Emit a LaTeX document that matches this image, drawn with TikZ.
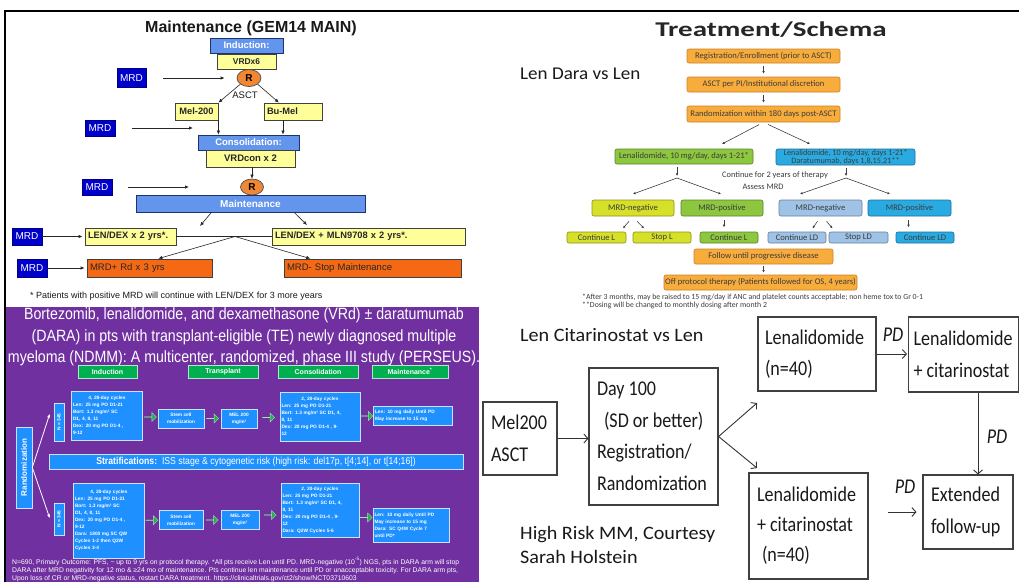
\documentclass[tikz,border=0pt]{standalone}
\usepackage{fontspec}
\setmainfont{Liberation Sans}
\newfontfamily\arialf{Liberation Sans}
\newfontfamily\arialn[FakeStretch=0.87]{Liberation Sans}
\newfontfamily\carl{Carlito}
\newfontfamily\carln[FakeStretch=0.86]{Carlito}
\newfontfamily\carlw[FakeStretch=1.06]{Carlito}
\newfontfamily\carlt[FakeStretch=1.38]{Carlito}
\usetikzlibrary{shapes.geometric,shapes.arrows,arrows.meta,calc}
\newcommand\fsz[2]{\fontsize{#1}{#2}\selectfont}

\definecolor{indblue}{RGB}{100,149,237}
\definecolor{navyb}{RGB}{30,50,110}
\definecolor{yel}{RGB}{255,255,153}
\definecolor{mrdblue}{RGB}{0,0,204}
\definecolor{rorg}{RGB}{240,135,50}
\definecolor{org}{RGB}{245,105,20}
\definecolor{purp}{RGB}{112,48,160}
\definecolor{pblue}{RGB}{30,144,255}
\definecolor{pgreen}{RGB}{0,176,80}
\definecolor{garrow}{RGB}{34,177,76}
\definecolor{sorange}{RGB}{248,172,60}
\definecolor{sorangeb}{RGB}{200,130,40}
\definecolor{sgreen}{RGB}{141,198,63}
\definecolor{slime}{RGB}{214,224,40}
\definecolor{slblue}{RGB}{158,195,230}
\definecolor{sblue}{RGB}{41,171,226}
\definecolor{stext}{RGB}{60,60,60}

\begin{document}
\begin{tikzpicture}[x=1pt,y=-1pt,
  % GEM14 schema
  bluebox/.style={draw=navyb, line width=0.8pt, fill=indblue, text=white, inner sep=0pt, font=\arialf\bfseries\fsz{9.5}{11}},
  ybox/.style={draw=black!75, line width=0.8pt, fill=yel, text=black!85, inner sep=0pt, font=\arialf\bfseries\fsz{9.3}{11}},
  obox/.style={draw=black!75, line width=0.8pt, fill=org, text=black!85, inner sep=0pt, font=\arialf\fsz{9.5}{11}},
  mrdbox/.style={draw=blue!50!black, line width=0.6pt, fill=mrdblue, text=white, inner sep=0pt, font=\arialf\fsz{10}{11}},
  rnode/.style={ellipse, draw=black!70, line width=0.7pt, fill=rorg, inner sep=0pt, font=\arialf\bfseries\fsz{10}{11}},
  arr/.style={-{Latex[length=4pt,width=3.5pt]}, line width=0.9pt, black!85},
  % PERSEUS schema
  pbox/.style={draw=white!75!pblue, line width=0.6pt, fill=pblue, text=white, inner sep=1.5pt, font=\arialf\bfseries\fsz{4.8}{7}},
  ghdr/.style={draw=white!70!pgreen, line width=0.5pt, fill=pgreen, text=white, inner sep=0pt, minimum height=13pt, font=\arialf\bfseries\fsz{7}{8}},
  garr/.style={single arrow, fill=garrow, draw=white!60!garrow, line width=0.4pt, minimum height=12pt, minimum width=9pt, single arrow head extend=3pt, inner sep=0pt},
  warr/.style={-{Stealth[length=4pt,width=3pt]}, line width=0.8pt, white},
  % Len/Dara schema
  sbox/.style={rounded corners=2pt, line width=0.6pt, text=stext, inner sep=0pt, font=\carl\fsz{8.6}{9}},
  sor/.style={sbox, fill=sorange, draw=sorangeb},
  sgr/.style={sbox, fill=sgreen, draw=sgreen!65!black},
  slm/.style={sbox, fill=slime, draw=slime!65!black},
  slb/.style={sbox, fill=slblue, draw=slblue!65!black},
  sbl/.style={sbox, fill=sblue, draw=sblue!65!black},
  stxt/.style={text=stext, font=\carl\fsz{8.4}{9}, inner sep=0pt},
  sarr/.style={-{Latex[length=2.6pt,width=2.6pt]}, line width=0.6pt, black!75},
  % citarinostat schema
  brbox/.style={draw=black!75, line width=1.1pt, text=black!90, inner sep=0pt, align=flush left, font=\carln\fsz{21}{31.5}},
  pdl/.style={font=\carln\itshape\fsz{21}{22}, text=black!90, inner sep=0pt},
  brarr/.style={-{Straight Barb[length=4pt,width=9pt]}, line width=0.9pt, black!80},
  label/.style={inner sep=0pt, text=black!90}
]
\useasboundingbox (0,0) rectangle (1019,582);
\fill[white] (0,0) rectangle (1019,582);

% ---------------- GEM14 MAIN ----------------
\node[label, font=\arialf\bfseries\fsz{16}{18}] (t1) at (251,28) {Maintenance (GEM14 MAIN)};
\node[bluebox, minimum width=73pt, minimum height=15pt] (ind) at (246.5,45.5) {Induction:};
\node[ybox, minimum width=59pt, minimum height=15pt, font=\arialf\bfseries\fsz{8.4}{10}] (vrd6) at (246.5,61.5) {VRDx6};
\node[rnode, minimum width=24pt, minimum height=17pt] (r1) at (249,78) {R};
\node[mrdbox, minimum width=29pt, minimum height=19pt] (m1) at (131.5,78) {MRD};
\draw[arr, shorten <=17pt, shorten >=12pt] (m1) -- (r1);
\node[label, font=\arialf\fsz{9.5}{11}] (asct1) at (245,95) {ASCT};
\node[ybox, minimum width=43pt, minimum height=17pt] (mel) at (196.5,111.5) {Mel-200};
\node[ybox, minimum width=58pt, minimum height=17pt, text width=52pt, inner xsep=3pt, align=left] (bu) at (293,111.5) {Bu-Mel};
\draw[arr, line width=0.6pt] (r1.south west) -- (mel.north east);
\draw[arr, line width=0.6pt] (r1.south east) -- ($(bu.north west)!0.26!(bu.north east)$);
\node[mrdbox, minimum width=30pt, minimum height=16pt] (m2) at (100,128) {MRD};
\coordinate (m2e) at (193,128);
\draw[arr, shorten <=17pt] (m2) -- (m2e);
\node[bluebox, minimum width=101pt, minimum height=15pt] (cons) at (248.5,142.5) {Consolidation:};
\draw[arr, line width=0.6pt] (mel.south east) -- (mel.south east |- cons.north);
\coordinate (bux) at ($(bu.south west)!0.33!(bu.south east)$);
\draw[arr, line width=0.6pt] (bux) -- (bux |- cons.north);
\node[ybox, minimum width=89pt, minimum height=17pt, font=\arialf\bfseries\fsz{9.5}{11}] (vrdc) at (250.5,158.5) {VRDcon x 2};
\node[rnode, minimum width=23pt, minimum height=16pt] (r2) at (252,187) {R};
\draw[arr, line width=0.6pt] (r2.north |- vrdc.south) -- (r2.north);
\node[mrdbox, minimum width=30pt, minimum height=16pt] (m3) at (97,187) {MRD};
\coordinate (m3e) at (189,187);
\draw[arr, shorten <=16pt] (m3) -- (m3e);
\node[bluebox, minimum width=229pt, minimum height=17pt, font=\arialf\bfseries\fsz{10}{11}] (maint) at (250.5,203.5) {Maintenance};
\coordinate (mlA) at (200,226);
\coordinate (mlB) at (307,225);
\draw[arr, line width=0.6pt] ($(maint.south west)!0.33!(maint.south east)$) -- (mlA);
\draw[arr, line width=0.6pt] ($(maint.south west)!0.69!(maint.south east)$) -- (mlB);
\node[mrdbox, minimum width=30pt, minimum height=17pt] (m4) at (27,236.5) {MRD};
\node[ybox, minimum width=91pt, minimum height=17pt, text width=85pt, inner xsep=3pt, align=left] (ld) at (130.5,236.5) {LEN/DEX x 2 yrs*.};
\node[ybox, minimum width=193pt, minimum height=17pt, text width=187pt, inner xsep=3pt, align=left] (ldm) at (368.5,236.5) {LEN/DEX + MLN9708 x 2 yrs*.};
\draw[arr, shorten >=2pt] (m4) -- (ld);
\draw[line width=1.1pt, black!85] (ld) -- (ldm);
\coordinate (jn) at (235,236.5);
\node[obox, minimum width=125pt, minimum height=18pt, text width=119pt, inner xsep=3pt, align=left] (mp) at (149.5,268) {MRD+ Rd x 3 yrs};
\node[obox, minimum width=177pt, minimum height=18pt, text width=171pt, inner xsep=3pt, align=left] (mm) at (372.5,268) {MRD- Stop Maintenance};
\draw[arr, line width=0.6pt] (jn) -- ($(mp.north west)!0.57!(mp.north east)$);
\draw[arr, line width=0.6pt] (jn) -- ($(mm.north west)!0.15!(mm.north east)$);
\node[mrdbox, minimum width=30pt, minimum height=18pt] (m5) at (32,268) {MRD};
\draw[arr, shorten >=2pt] (m5) -- (mp);
\node[label, anchor=west, font=\arialf\fsz{9}{10}] (fn1) at (30,296) {* Patients with positive MRD will continue with LEN/DEX for 3 more years};

% ---------------- PERSEUS ----------------
\fill[purp] (5,307) rectangle (479,582);
\node[inner sep=0pt, text=white, align=center, font=\arialn\fsz{16.3}{21.5}] (ptitle) at (244,337)
  {Bortezomib, lenalidomide, and dexamethasone (VRd) ± daratumumab\\(DARA) in pts with transplant-eligible (TE) newly diagnosed multiple\\myeloma (NDMM): A multicenter, randomized, phase III study (PERSEUS).};
\node[ghdr, minimum width=59pt] (hI) at (107.5,371.5) {Induction};
\node[ghdr, minimum width=70pt] (hT) at (223,371.5) {Transplant};
\node[ghdr, minimum width=80pt] (hC) at (318,371.5) {Consolidation};
\node[ghdr, minimum width=76pt] (hM) at (410,371.5) {Maintenance\textsuperscript{*}};

% arm without daratumumab
\node[pbox, rotate=90, minimum width=38pt, minimum height=10pt, inner sep=0pt] (n1) at (59,422) {N = 345};
\node[pbox, text width=68pt, minimum height=49pt, align=left] (ind1) at (107,415.5)
  {\makebox[68pt]{4, 28-day cycles}\\Len: 25 mg PO D1-21\\Bort: 1.3 mg/m² SC\\D1, 4, 8, 11\\Dex: 20 mg PO D1-4 ,\\9-12};
\node[pbox, minimum width=46pt, minimum height=19pt, align=center] (st1) at (181,418.5) {Stem cell\\mobilization};
\node[pbox, minimum width=36pt, minimum height=19pt, align=center] (ml1) at (239,418.5) {MEL 200\\mg/m²};
\node[pbox, text width=77pt, minimum height=49pt, align=left] (con1) at (320,416.5)
  {\makebox[77pt]{2, 28-day cycles}\\Len: 25 mg PO D1-21\\Bort: 1.3 mg/m² SC D1, 4,\\8, 11\\Dex: 20 mg PO D1-4 , 9-\\12};
\node[pbox, text width=76pt, minimum height=19pt, align=left] (mt1) at (413,415.5)
  {Len: 10 mg daily Until PD\\May increase to 15 mg};
\node[garr] (g11) at ($(ind1.east)!0.5!(st1.west)$) {};
\node[garr] (g12) at ($(st1.east)!0.5!(ml1.west)$) {};
\node[garr] (g13) at ($(ml1.east)!0.5!(con1.west)$) {};
\node[garr] (g14) at ($(con1.east)!0.5!(mt1.west)$) {};

% stratification bar and randomisation
\node[pbox, minimum width=414pt, minimum height=15pt, inner sep=0pt, font=\arialn\fsz{10}{11}] (strat) at (256,461.5)
  {\textbf{Stratifications:}\ \ ISS stage \& cytogenetic risk (high risk: del17p, t[4;14], or t[14;16])};
\node[pbox, rotate=90, minimum width=81pt, minimum height=16pt, inner sep=0pt, font=\arialf\bfseries\fsz{8}{9}] (rand) at (24,467.5) {Randomization};

% arm with daratumumab
\node[pbox, rotate=90, minimum width=32pt, minimum height=10pt, inner sep=0pt] (n2) at (59,519) {N = 345};
\node[pbox, text width=68pt, minimum height=75pt, align=left] (ind2) at (109,520.5)
  {\makebox[68pt]{4, 28-day cycles}\\Len: 25 mg PO D1-21\\Bort: 1.3 mg/m² SC\\D1, 4, 8, 11\\Dex: 20 mg PO D1-4 ,\\9-12\\Dara: 1800 mg SC QW\\Cycles 1-2 then Q2W\\Cycles 3-4};
\node[pbox, minimum width=44pt, minimum height=19pt, align=center] (st2) at (181,520) {Stem cell\\mobilization};
\node[pbox, minimum width=38pt, minimum height=19pt, align=center] (ml2) at (240,520) {MEL 200\\mg/m²};
\node[pbox, text width=75pt, minimum height=54pt, align=left] (con2) at (320,510)
  {\makebox[75pt]{2, 28-day cycles}\\Len: 25 mg PO D1-21\\Bort: 1.3 mg/m² SC D1, 4,\\8, 11\\Dex: 20 mg PO D1-4 , 9-\\12\\Dara: Q2W Cycles 5-6};
\node[pbox, text width=73pt, minimum height=34pt, align=left] (mt2) at (411,525)
  {Len: 10 mg daily Until PD\\May increase to 15 mg\\Dara: SC Q4W Cycle 7\\until PD*};
\node[garr] (g21) at ($(ind2.east)!0.5!(st2.west)$) {};
\node[garr] (g22) at ($(st2.east)!0.5!(ml2.west)$) {};
\node[garr] (g23) at ($(ml2.east)!0.5!(con2.west)$) {};
\node[garr] (g24) at ($(con2.east)!0.5!(mt2.west)$) {};

\draw[warr] (rand.south) -- ($(n1.north)+(-4,-8)$);
\draw[warr] (rand.south) -- ($(n2.north)+(-4,-1)$);

\node[anchor=north west, inner sep=0pt, text=white, align=flush left, font=\arialf\fsz{6.8}{8.2}] (pfn) at (12,557.5)
  {N=690, Primary Outcome: PFS, \textasciitilde\ up to 9 yrs on protocol therapy. *All pts receive Len until PD. MRD-negative (10\textsuperscript{-5}) NGS, pts in DARA arm will stop\\
   DARA after MRD negativity for 12 mo \& ≥24 mo of maintenance. Pts continue len maintenance until PD or unacceptable toxicity. For DARA arm pts,\\
   Upon loss of CR or MRD-negative status, restart DARA treatment. https://clinicaltrials.gov/ct2/show/NCT03710603};

% panel frame
\draw[line width=1.3pt, black] (5,582) -- (5,11) -- (1019,11);

% ---------------- Len Dara vs Len ----------------
\node[label, font=\carlt\bfseries\fsz{21}{24}, text=black!85] (t2) at (771,30) {Treatment/Schema};
\node[label, anchor=west, font=\carlw\fsz{18}{20}] (ldv) at (520,74) {Len Dara vs Len};
\node[sor, minimum width=153pt, minimum height=14pt] (reg) at (763.5,56) {Registration/Enrollment (prior to ASCT)};
\node[sor, minimum width=153pt, minimum height=15pt] (asct2) at (763.5,84.5) {ASCT per PI/Institutional discretion};
\node[sor, minimum width=153pt, minimum height=16pt] (rnd) at (763.5,114) {Randomization within 180 days post-ASCT};
\draw[sarr, shorten <=3pt, shorten >=3pt] (reg) -- (asct2);
\draw[sarr, shorten <=3pt, shorten >=3pt] (asct2) -- (rnd);
\coordinate (rA) at (722,144);
\coordinate (rB) at (810,144);
\draw[sarr, shorten <=5pt] (rnd.south) -- (rA);
\draw[sarr, shorten <=5pt] (rnd.south) -- (rB);
\node[sgr, minimum width=138pt, minimum height=15pt] (lenA) at (684,156.5) {Lenalidomide, 10 mg/day, days 1-21*};
\node[sbl, minimum width=139pt, minimum height=16pt, align=center, font=\carl\fsz{8.2}{6.8}] (lenB) at (845.5,157) {Lenalidomide, 10 mg/day, days 1-21*\\Daratumumab, days 1,8,15,21**};
\coordinate (aA) at (677,176);
\coordinate (aB) at (846,176);
\draw[sarr, shorten <=3pt] (aA |- lenA.south) -- (aA);
\draw[sarr, shorten <=3pt] (aB |- lenB.south) -- (aB);
\node[stxt] (c2y) at (775,175) {Continue for 2 years of therapy};
\node[stxt] (amrd) at (763,187) {Assess MRD};
\coordinate (bA) at (677,178);
\coordinate (bB) at (846,178);
\coordinate (tA1) at (633,194);
\coordinate (tA2) at (721,194);
\coordinate (tB1) at (800,194);
\coordinate (tB2) at (890,194);
\draw[sarr] (bA) -- (tA1);
\draw[sarr] (bA) -- (tA2);
\draw[sarr] (bB) -- (tB1);
\draw[sarr] (bB) -- (tB2);
\node[slm, minimum width=82pt, minimum height=16pt] (mnA) at (633,208) {MRD-negative};
\node[sgr, minimum width=82pt, minimum height=16pt] (mpA) at (722,208) {MRD-positive};
\node[slb, minimum width=83pt, minimum height=16pt] (mnB) at (820.5,208) {MRD-negative};
\node[sbl, minimum width=83pt, minimum height=16pt] (mpB) at (909.5,208) {MRD-positive};
\draw[sarr] ($(mnA.south)+(-4,5)$) -- ($(mnA.south)+(-10,12)$);
\draw[sarr] ($(mnA.south)+(4,5)$) -- ($(mnA.south)+(11,12)$);
\draw[sarr] ($(mpA.south)+(2,4)$) -- ($(mpA.south)+(2,11)$);
\draw[sarr] ($(mnB.south)+(-3,5)$) -- ($(mnB.south)+(-8,12)$);
\draw[sarr] ($(mnB.south)+(6,5)$) -- ($(mnB.south)+(12,12)$);
\draw[sarr] ($(mpB.south)+(-1,4)$) -- ($(mpB.south)+(-1,11)$);
\node[slm, minimum width=59pt, minimum height=11pt] (cL1) at (596.5,237.5) {Continue L};
\node[slm, minimum width=58pt, minimum height=11pt] (sL) at (662,237.5) {Stop L};
\node[sgr, minimum width=58pt, minimum height=11pt] (cL2) at (729,237.5) {Continue L};
\node[slb, minimum width=58pt, minimum height=11pt] (cLD1) at (797,237.5) {Continue LD};
\node[slb, minimum width=59pt, minimum height=11pt] (sLD) at (858.5,237.5) {Stop LD};
\node[sbl, minimum width=58pt, minimum height=11pt] (cLD2) at (925,237.5) {Continue LD};
\node[sor, minimum width=139pt, minimum height=15pt] (fol) at (763.5,256.5) {Follow until progressive disease};
\node[sor, minimum width=193pt, minimum height=15pt] (off) at (760.5,282.5) {Off protocol therapy (Patients followed for OS, 4 years)};
\draw[sarr, shorten <=2pt, shorten >=2pt] (fol.south) -- (fol.south |- off.north);
\node[stxt, anchor=west, font=\carl\fsz{7.8}{8}] (sfn1) at (582,297) {*After 3 months, may be raised to 15 mg/day if ANC and platelet counts acceptable; non heme tox to Gr 0-1};
\node[stxt, anchor=west, font=\carl\fsz{7.8}{8}] (sfn2) at (582,305) {**Dosing will be changed to monthly dosing after month 2};

% ---------------- Len Citarinostat vs Len ----------------
\node[label, anchor=west, font=\carlw\fsz{19}{22}] (lcv) at (520,335) {Len Citarinostat vs Len};
\node[brbox, minimum width=74pt, minimum height=73pt, text width=58pt] (mel200) at (520,438.5) {Mel200\\ASCT};
\node[brbox, minimum width=129pt, minimum height=137pt, text width=113pt] (day) at (653.5,436.5) {Day 100\\\hspace*{7pt}(SD or better)\\Registration/\\Randomization};
\node[brbox, minimum width=118pt, minimum height=74pt, text width=104pt] (lenT) at (817,354) {Lenalidomide\\(n=40)};
\node[brbox, minimum width=110pt, minimum height=75pt, text width=100pt] (lcT) at (963.5,354.5) {Lenalidomide\\+ citarinostat};
\node[brbox, minimum width=119pt, minimum height=106pt, text width=103pt, font=\carln\fsz{21}{30}] (lcB) at (808.5,526) {Lenalidomide\\+ citarinostat\\\hspace*{5pt}(n=40)};
\node[brbox, minimum width=90pt, minimum height=74pt, text width=74pt] (ext) at (968,512) {Extended\\follow-up};
\draw[brarr] (mel200) -- (mel200 -| day.west);
\coordinate (uA) at (757,403);
\coordinate (uB) at (757,468);
\draw[brarr] (day.east) -- (uA);
\draw[brarr] (day.east) -- (uB);
\draw[brarr, shorten >=1pt] (lenT) -- (lenT -| lcT.west);
\coordinate (px) at (978,0);
\draw[brarr] (lcT.south -| px) -- (ext.north -| px);
\draw[brarr, shorten <=19pt, shorten >=6pt] (lcB.east |- ext.west) -- (ext.west);
\node[pdl] (pd1) at (893,335) {PD};
\node[pdl] (pd2) at (997,437) {PD};
\node[pdl] (pd3) at (905,487) {PD};
\node[label, anchor=north west, align=flush left, font=\carlw\fsz{19}{24.5}] (hr) at (520,526) {High Risk MM, Courtesy\\Sarah Holstein};
\end{tikzpicture}
\end{document}
